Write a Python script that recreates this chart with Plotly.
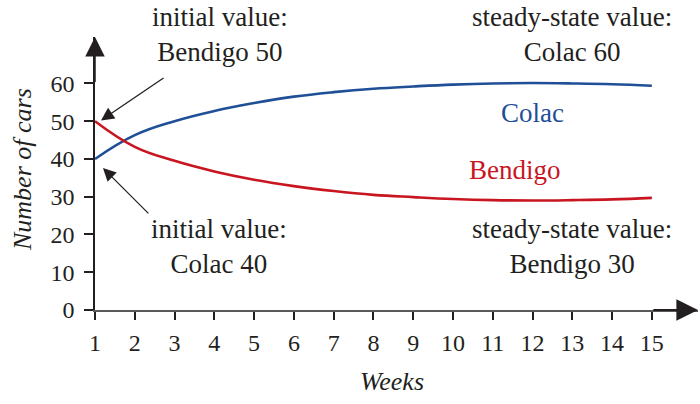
import plotly.graph_objects as go

weeks = list(range(1, 16))
colac = [40, 46.3, 50.0, 52.7, 54.8, 56.5, 57.7, 58.6, 59.2, 59.7, 60.0, 60.1, 60.0, 59.8, 59.4]
bendigo = [50, 43.2, 39.5, 36.7, 34.5, 32.8, 31.5, 30.5, 29.9, 29.4, 29.1, 29.0, 29.1, 29.3, 29.7]
x_ticks = list(range(1, 16))
y_ticks = [0, 10, 20, 30, 40, 50, 60]

BLUE = "#1f4f96"
RED = "#c8151f"
INK = "#231f20"
FONT = "Liberation Serif, Times New Roman, serif"

L, R, T, B = 95, 698, 37, 310

fig = go.Figure()
fig.add_trace(go.Scatter(x=weeks, y=colac, mode="lines", line=dict(color=BLUE, width=2.6, shape="spline", smoothing=1.2), cliponaxis=False))
fig.add_trace(go.Scatter(x=weeks, y=bendigo, mode="lines", line=dict(color=RED, width=2.6, shape="spline", smoothing=1.2), cliponaxis=False))

XMAX = 16.16
YMAX = 72.3

fig.update_layout(
    width=700, height=404,
    margin=dict(l=L, r=700 - R, t=T, b=404 - B),
    paper_bgcolor="white", plot_bgcolor="white",
    showlegend=False,
    font=dict(family=FONT, size=24, color=INK),
    xaxis=dict(range=[1, XMAX], tickvals=x_ticks, ticks="outside", ticklen=8, tickwidth=2, tickcolor=INK,
               showline=True, linecolor="#5a5a5a", linewidth=2, showgrid=False, zeroline=False,
               tickfont=dict(family=FONT, size=24), ticklabelstandoff=2),
    yaxis=dict(range=[0, YMAX], tickvals=y_ticks, ticks="outside", ticklen=9, tickwidth=2, tickcolor=INK,
               showline=True, linecolor=INK, linewidth=1.5, showgrid=False, zeroline=False,
               tickfont=dict(family=FONT, size=24), ticklabelstandoff=5),
)

# axis arrowheads
fig.add_annotation(x=1, y=YMAX, ax=1, ay=60, xref="x", yref="y", axref="x", ayref="y",
                   text="", showarrow=True, arrowhead=2, arrowsize=2.6, arrowwidth=1.5, arrowcolor=INK)
fig.add_annotation(x=XMAX, y=0, ax=15, ay=0, xref="x", yref="y", axref="x", ayref="y",
                   text="", showarrow=True, arrowhead=2, arrowsize=2.4, arrowwidth=1.8, arrowcolor=INK)

# pointer arrows
fig.add_annotation(x=1.15, y=50.2, ax=2.76, ay=61.7, xref="x", yref="y", axref="x", ayref="y",
                   text="", showarrow=True, arrowhead=2, arrowsize=2.0, arrowwidth=1.3, arrowcolor=INK)
fig.add_annotation(x=1.2, y=37.6, ax=2.38, ay=25.2, xref="x", yref="y", axref="x", ayref="y",
                   text="", showarrow=True, arrowhead=2, arrowsize=2.0, arrowwidth=1.3, arrowcolor=INK)

def txt(px, py, s, color=INK, size=27, angle=0):
    fig.add_annotation(x=(px - L) / (R - L), y=(B - py) / (B - T), xref="paper", yref="paper", text=s,
                       showarrow=False, font=dict(family=FONT, size=size, color=color), align="center",
                       xanchor="center", yanchor="middle", textangle=angle)

txt(220, 34, "initial value:<br>Bendigo 50")
txt(572, 34, "steady-state value:<br>Colac 60")
txt(219, 247, "initial value:<br>Colac 40")
txt(572, 247, "steady-state value:<br>Bendigo 30")
txt(532, 113, "Colac", BLUE)
txt(515, 170, "Bendigo", RED)

# axis titles
txt(392, 381, "<i>Weeks</i>", size=26)
txt(22, 170, "<i>Number of cars</i>", size=26, angle=-90)

fig.write_html("out.html")
